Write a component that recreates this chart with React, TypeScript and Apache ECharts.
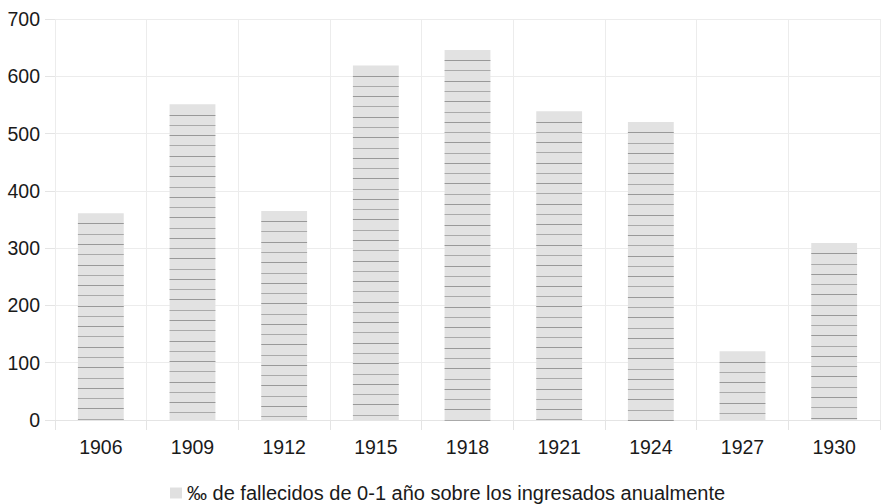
import React, { useEffect, useRef } from "react";
import * as echarts from "echarts";

const categories = ["1906", "1909", "1912", "1915", "1918", "1921", "1924", "1927", "1930"];
const values = [361, 551, 365, 619, 646, 539, 520, 120, 309];
const yTicks = [0, 100, 200, 300, 400, 500, 600, 700];
const seriesName = "‰ de fallecidos de 0-1 año sobre los ingresados anualmente";

export default function App() {
  const ref = useRef<HTMLDivElement>(null);
  useEffect(() => {
    if (!ref.current) return;
    const chart = echarts.init(ref.current, null, { renderer: "svg" });
    const font = "'Liberation Sans', Arial, sans-serif";
    chart.setOption({
      animation: false,
      backgroundColor: "#ffffff",
      grid: { left: 55, right: 2, top: 19, bottom: 84 },
      legend: {
        top: 482,
        left: 170,
        padding: 0,
        itemWidth: 12,
        itemHeight: 11,
        itemGap: 10,
        icon: "rect",
        textStyle: { fontFamily: font, fontSize: 20, color: "#1a1a1a", lineHeight: 22 },
        data: [{ name: seriesName, itemStyle: { color: "#e0e0e0" } }],
      },
      xAxis: {
        type: "category",
        data: categories,
        boundaryGap: true,
        axisLine: { show: true, lineStyle: { color: "#e4e4e4", width: 1 } },
        axisTick: { show: true, length: 10, lineStyle: { color: "#e4e4e4" } },
        splitLine: { show: true, lineStyle: { color: "#ececec", width: 1 } },
        axisLabel: { fontFamily: font, fontSize: 19.5, color: "#1a1a1a", margin: 17 },
      },
      yAxis: {
        type: "value",
        min: yTicks[0],
        max: yTicks[yTicks.length - 1],
        interval: 100,
        axisLine: { show: false },
        axisTick: { show: true, length: 10, lineStyle: { color: "#e4e4e4" } },
        splitLine: { show: true, lineStyle: { color: "#ececec", width: 1 } },
        axisLabel: { fontFamily: font, fontSize: 19.5, color: "#1a1a1a", margin: 15 },
      },
      series: [
        {
          type: "custom",
          name: seriesName,
          data: values.map((v, i) => [i, v]),
          encode: { x: 0, y: 1 },
          itemStyle: { color: "#e2e2e2" },
          renderItem: (params: any, api: any) => {
            const idx = api.value(0);
            const val = api.value(1);
            const top = api.coord([idx, val]);
            const bottom = api.coord([idx, 0]);
            const band = api.size([1, 0])[0];
            const w = band * 0.5;
            const x0 = top[0] - w / 2;
            const children: any[] = [
              {
                type: "rect",
                shape: { x: x0, y: top[1], width: w, height: bottom[1] - top[1] },
                style: { fill: "#e2e2e2" },
              },
            ];
            const step = 10.27;
            let k = 1;
            for (let y = top[1] + step; y < bottom[1]; y += step, k++) {
              const yy = Math.round(y) + 0.5;
              children.push({
                type: "line",
                shape: { x1: x0, y1: yy, x2: x0 + w, y2: yy },
                style: { stroke: k % 2 === 0 ? "#aaaaaa" : "#999999", lineWidth: 1.2 },
              });
            }
            return { type: "group", children };
          },
        },
      ],
    });
    return () => chart.dispose();
  }, []);
  return <div ref={ref} style={{ width: 882, height: 504, position: "absolute", left: 0, top: 0 }} />;
}
